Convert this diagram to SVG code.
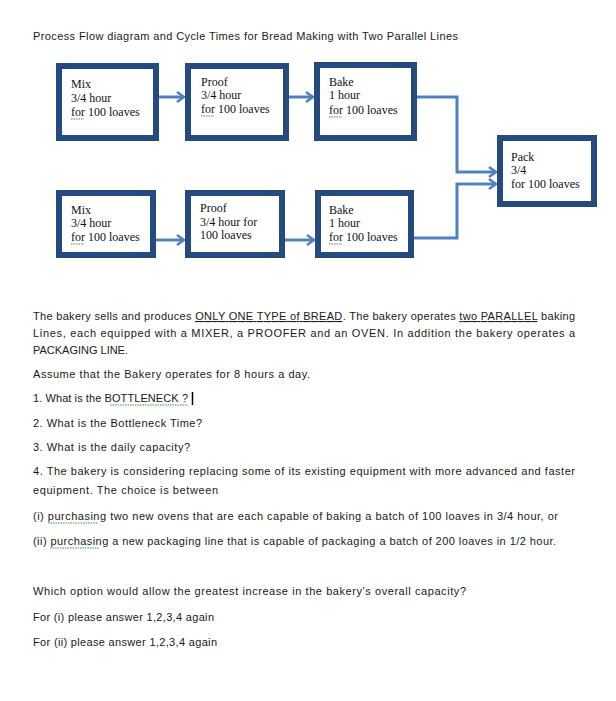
<svg xmlns="http://www.w3.org/2000/svg" width="616" height="701" viewBox="0 0 616 701">
<style>
.box{fill:#fff;stroke:#254B7E;stroke-width:6}
.bt{font-family:"Liberation Serif","Times New Roman",serif;font-size:12px;fill:#111}
.tx{font-family:"Liberation Sans",Arial,sans-serif;font-size:11px;fill:#1a1a1a}
.con{fill:none;stroke:#4F81BD;stroke-width:3}
.sp{fill:none;stroke:#3a9a3a;stroke-width:1;stroke-dasharray:1.5 1}
</style>
<defs>
<marker id="arr" markerUnits="userSpaceOnUse" markerWidth="14" markerHeight="14" refX="10" refY="7" orient="auto">
<path d="M3,2 L10,7 L3,12" fill="none" stroke="#4F81BD" stroke-width="2.5"/>
</marker>
</defs>
<rect width="616" height="701" fill="#fff"/>
<text class="tx" x="33" y="40" textLength="425">Process Flow diagram and Cycle Times for Bread Making with Two Parallel Lines</text>

<g id="connectors">
<path class="con" d="M159,97 H184" marker-end="url(#arr)"/>
<path class="con" d="M289,97 H313" marker-end="url(#arr)"/>
<path class="con" d="M156,240 H184" marker-end="url(#arr)"/>
<path class="con" d="M285,240 H314" marker-end="url(#arr)"/>
<path class="con" d="M417,97 H457 V172 H496" marker-end="url(#arr)"/>
<path class="con" d="M414,238 H457 V184 H496" marker-end="url(#arr)"/>
</g>

<g id="mix1">
<rect class="box" x="59" y="66" width="97" height="72"/>
<text class="bt" x="71" y="88">Mix</text>
<text class="bt" x="71" y="102">3/4 hour</text>
<text class="bt" x="71" y="116">for 100 loaves</text>
<path class="sp" d="M71,119 H84"/>
</g>
<g id="proof1">
<rect class="box" x="188" y="66" width="98" height="72"/>
<text class="bt" x="201" y="86">Proof</text>
<text class="bt" x="201" y="99">3/4 hour</text>
<text class="bt" x="201" y="113">for 100 loaves</text>
<path class="sp" d="M201,116 H214"/>
</g>
<g id="bake1">
<rect class="box" x="317" y="65" width="97" height="73"/>
<text class="bt" x="329" y="86">Bake</text>
<text class="bt" x="329" y="99">1 hour</text>
<text class="bt" x="329" y="114">for 100 loaves</text>
<path class="sp" d="M329,117 H342"/>
</g>
<g id="pack">
<rect class="box" x="500" y="138" width="94" height="66"/>
<text class="bt" x="511" y="161">Pack</text>
<text class="bt" x="511" y="174">3/4</text>
<text class="bt" x="511" y="188">for 100 loaves</text>
</g>
<g id="mix2">
<rect class="box" x="59" y="193" width="94" height="62"/>
<text class="bt" x="71" y="214">Mix</text>
<text class="bt" x="71" y="227">3/4 hour</text>
<text class="bt" x="71" y="241">for 100 loaves</text>
<path class="sp" d="M71,244 H84"/>
</g>
<g id="proof2">
<rect class="box" x="188" y="193" width="94" height="62"/>
<text class="bt" x="200" y="212">Proof</text>
<text class="bt" x="200" y="226">3/4 hour for</text>
<text class="bt" x="200" y="239">100 loaves</text>
</g>
<g id="bake2">
<rect class="box" x="318" y="193" width="93" height="62"/>
<text class="bt" x="329" y="214">Bake</text>
<text class="bt" x="329" y="227">1 hour</text>
<text class="bt" x="329" y="241">for 100 loaves</text>
<path class="sp" d="M329,244 H342"/>
</g>

<g id="body">
<text class="tx" x="33" y="320" textLength="542">The bakery sells and produces <tspan text-decoration="underline">ONLY ONE TYPE of BREAD</tspan>.  The bakery operates <tspan text-decoration="underline">two PARALLEL</tspan> baking</text>
<text class="tx" x="33" y="337" textLength="542">Lines, each equipped with a MIXER, a PROOFER and an OVEN. In addition the bakery operates a</text>
<text class="tx" x="33" y="354" textLength="95">PACKAGING LINE.</text>
<text class="tx" x="33" y="378" textLength="277">Assume that the Bakery operates for 8 hours a day.</text>
<text class="tx" x="33" y="402" textLength="155">1. What is the BOTTLENECK ?</text>
<path class="sp" d="M110,405 H188"/>
<path d="M192.5,392 V405" stroke="#000" stroke-width="1.5"/>
<text class="tx" x="33" y="427" textLength="169">2. What is the Bottleneck Time?</text>
<text class="tx" x="33" y="451" textLength="157">3. What is the daily capacity?</text>
<text class="tx" x="33" y="475" textLength="542">4. The bakery is considering replacing some of its existing equipment with more advanced and faster</text>
<text class="tx" x="33" y="494" textLength="185">equipment. The choice is between</text>
<text class="tx" x="33" y="520" textLength="525">(i) purchasing two new ovens that are each capable of baking a batch of 100 loaves in 3/4 hour, or</text>
<path class="sp" d="M48,523 H98"/>
<text class="tx" x="33" y="545" textLength="523">(ii) purchasing a new packaging line that is capable of packaging a batch of 200 loaves in 1/2 hour.</text>
<path class="sp" d="M50,548 H100"/>
<text class="tx" x="33" y="595" textLength="433">Which option would allow the greatest increase in the bakery's overall capacity?</text>
<text class="tx" x="33" y="621" textLength="181">For (i) please answer 1,2,3,4 again</text>
<text class="tx" x="33" y="646" textLength="184">For (ii) please answer 1,2,3,4 again</text>
</g>
</svg>
